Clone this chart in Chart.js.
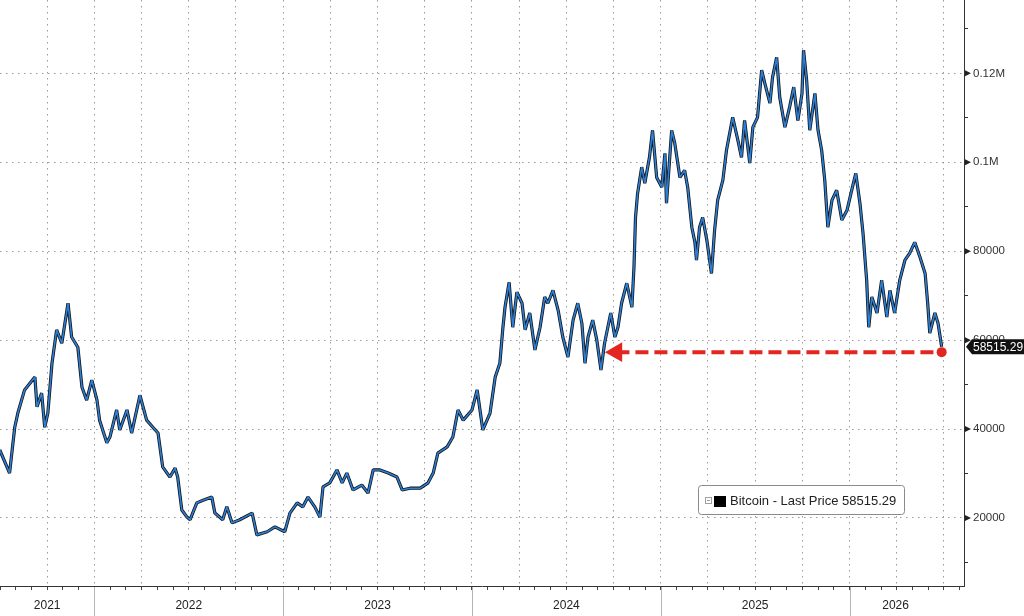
<!DOCTYPE html>
<html>
<head>
<meta charset="utf-8">
<title>Bitcoin - Last Price</title>
<script src="https://cdn.jsdelivr.net/npm/chart.js@4.4.1/dist/chart.umd.min.js"></script>
<style>
  html, body { margin: 0; padding: 0; background: #fff; }
  #wrap { width: 1024px; height: 616px; }
</style>
</head>
<body>
<div id="wrap"><canvas id="btcChart" width="1024" height="616"></canvas></div>
<script>
// weekly-ish readings of the Bitcoin price (USD)
var dates = [
  '2021-07-02','2021-07-21','2021-07-31','2021-08-06','2021-08-19','2021-09-08','2021-09-12','2021-09-21','2021-09-27','2021-10-03',
  '2021-10-11','2021-10-20','2021-10-30','2021-11-11','2021-11-18','2021-11-30','2021-12-08','2021-12-17','2021-12-27','2022-01-06',
  '2022-01-11','2022-01-25','2022-01-31','2022-02-13','2022-02-19','2022-03-05','2022-03-14','2022-03-30','2022-04-12','2022-04-24',
  '2022-05-04','2022-05-13','2022-05-27','2022-06-06','2022-06-11','2022-06-19','2022-06-29','2022-07-05','2022-07-10','2022-07-18',
  '2022-07-30','2022-08-16','2022-08-22','2022-09-06','2022-09-14','2022-09-24','2022-10-09','2022-11-02','2022-11-11','2022-12-01',
  '2022-12-16','2023-01-04','2023-01-14','2023-01-28','2023-02-08','2023-02-18','2023-03-03','2023-03-13','2023-03-19','2023-04-01',
  '2023-04-15','2023-04-25','2023-05-04','2023-05-16','2023-06-02','2023-06-14','2023-06-24','2023-07-07','2023-07-23','2023-08-09',
  '2023-08-19','2023-09-03','2023-09-23','2023-10-08','2023-10-18','2023-10-27','2023-11-14','2023-11-25','2023-12-05','2023-12-15',
  '2024-01-01','2024-01-11','2024-01-22','2024-02-05','2024-02-15','2024-02-24','2024-03-01','2024-03-05','2024-03-13','2024-03-20',
  '2024-03-28','2024-04-07','2024-04-13','2024-04-22','2024-05-02','2024-05-12','2024-05-21','2024-05-27','2024-06-06','2024-06-16',
  '2024-06-25','2024-07-05','2024-07-15','2024-07-24','2024-08-01','2024-08-07','2024-08-13','2024-08-22','2024-08-30','2024-09-07',
  '2024-09-14','2024-09-26','2024-10-04','2024-10-10','2024-10-17','2024-10-27','2024-11-06','2024-11-10','2024-11-13','2024-11-17',
  '2024-11-25','2024-12-01','2024-12-10','2024-12-16','2024-12-24','2025-01-03','2025-01-09','2025-01-12','2025-01-22','2025-01-28',
  '2025-02-07','2025-02-16','2025-02-22','2025-03-02','2025-03-08','2025-03-11','2025-03-17','2025-03-23','2025-03-31','2025-04-09',
  '2025-04-15','2025-04-21','2025-05-01','2025-05-08','2025-05-20','2025-05-30','2025-06-06','2025-06-12','2025-06-22','2025-06-28',
  '2025-07-07','2025-07-15','2025-07-21','2025-07-31','2025-08-05','2025-08-13','2025-08-19','2025-08-29','2025-09-07','2025-09-15',
  '2025-09-23','2025-10-01','2025-10-04','2025-10-10','2025-10-16','2025-10-26','2025-11-01','2025-11-08','2025-11-14','2025-11-20',
  '2025-11-28','2025-12-07','2025-12-17','2025-12-27','2026-01-05','2026-01-13','2026-01-21','2026-01-27','2026-02-03','2026-02-07',
  '2026-02-13','2026-02-23','2026-03-04','2026-03-14','2026-03-20','2026-03-29','2026-04-08','2026-04-18','2026-04-27','2026-05-07',
  '2026-05-17','2026-05-27','2026-06-01','2026-06-05','2026-06-15','2026-06-21','2026-06-28'
];
var prices = [
  35300, 30100, 40400, 43600, 48800, 51700, 45000, 48100, 40400, 43600,
  54800, 62300, 59300, 68300, 60700, 58400, 49400, 46500, 51000, 46500,
  42000, 36900, 38200, 44300, 39800, 44300, 39100, 47600, 42000, 40400,
  39100, 31500, 29200, 31200, 29200, 21800, 20200, 19600, 21100, 23400,
  24000, 24700, 21100, 19600, 22500, 18900, 19600, 21100, 16200, 16900,
  18000, 16900, 21100, 23400, 22500, 24700, 22500, 20200, 27000, 27900,
  30800, 27900, 30100, 26300, 27400, 25600, 30800, 30800, 30100, 29200,
  26300, 26700, 26700, 27900, 30100, 34600, 36000, 38200, 44300, 42000,
  44300, 48800, 39800, 43600, 51700, 54800, 62900, 67400, 73000, 62900,
  70800, 68300, 62300, 66100, 57800, 62900, 69700, 68300, 71200, 66700,
  60700, 56200, 64500, 68300, 63800, 54800, 60700, 64500, 60000, 53300,
  59300, 66100, 60700, 62900, 68300, 72800, 67400, 76400, 87600, 93000,
  98900, 95300, 101100, 107200, 96600, 94400, 102000, 90800, 107200, 104300,
  96600, 98200, 94400, 85400, 82000, 78000, 85400, 87600, 82500, 75000,
  84700, 91500, 96000, 102700, 110100, 105000, 101100, 109400, 99800, 107900,
  110100, 120700, 117800, 113300, 119100, 123600, 114600, 107900, 112400, 116900,
  109400, 115500, 125200, 118400, 107200, 115500, 107200, 102700, 96000, 85400,
  91500, 93700, 87000, 89200, 93700, 97500, 90800, 84000, 73500, 62900,
  69700, 66100, 73500, 65200, 71200, 66100, 73500, 78000, 79500, 82000,
  78700, 75000, 68300, 61600, 66100, 63800, 58515.29
];
var lastPrice = 58515.29;

var yearLabels = ['2021', '2022', '2023', '2024', '2025', '2026'];
var yTickValues = [20000, 40000, 60000, 80000, 100000, 120000];
var yTickLabels = ['20000', '40000', '60000', '80000', '0.1M', '0.12M'];

// red arrow: from the last print back to the September 2024 level
var arrowStart = '2026-06-28';
var arrowEnd = '2024-10-07';
var arrowLevel = 57300;

function toYear(s) {
  var p = s.split('-');
  var y = +p[0];
  var t0 = Date.UTC(y, 0, 1), t1 = Date.UTC(y + 1, 0, 1);
  return y + (Date.UTC(y, +p[1] - 1, +p[2]) - t0) / (t1 - t0);
}

var xMin = 2021.5, xMax = 2026.606;
var series = dates.map(function(d, i) { return { x: toYear(d), y: prices[i] }; });
var arrowPoints = [
  { x: toYear(arrowEnd), y: arrowLevel },
  { x: toYear(arrowStart), y: arrowLevel }
];
var lastT = toYear(dates[dates.length - 1]);
var yearLabelPos = yearLabels.map(function(l, i) {
  var y = +l;
  if (i === 0) return (xMin + y + 1) / 2;
  if (i === yearLabels.length - 1) return (y + lastT) / 2;
  return y + 0.5;
});

var FONT = '"Liberation Sans", Arial, sans-serif';

var decorPlugin = {
  id: 'decor',
  afterDraw: function(chart) {
    var ctx = chart.ctx, xs = chart.scales.x, ys = chart.scales.y, area = chart.chartArea;
    ctx.save();

    // year separators + labels under the time axis
    ctx.strokeStyle = '#b4b4b4';
    ctx.lineWidth = 1;
    yearLabels.forEach(function(l, i) {
      if (i === 0) return;
      var px = Math.round(xs.getPixelForValue(+l)) + 0.5;
      ctx.beginPath();
      ctx.moveTo(px, area.bottom + 1);
      ctx.lineTo(px, chart.height);
      ctx.stroke();
    });
    ctx.fillStyle = '#222';
    ctx.font = '12px ' + FONT;
    ctx.textAlign = 'center';
    ctx.textBaseline = 'middle';
    yearLabels.forEach(function(l, i) {
      ctx.fillText(l, xs.getPixelForValue(yearLabelPos[i]), 606);
    });

    // little pointers at the labelled price ticks
    ctx.fillStyle = '#222';
    yTickValues.forEach(function(v) {
      var py = ys.getPixelForValue(v);
      ctx.beginPath();
      ctx.moveTo(area.right + 1, py - 3);
      ctx.lineTo(area.right + 7, py);
      ctx.lineTo(area.right + 1, py + 3);
      ctx.closePath();
      ctx.fill();
    });

    // last price tag on the axis
    var ty = ys.getPixelForValue(lastPrice);
    ctx.fillStyle = '#111';
    ctx.beginPath();
    ctx.moveTo(area.right + 2, ty);
    ctx.lineTo(area.right + 8, ty - 7.5);
    ctx.lineTo(chart.width, ty - 7.5);
    ctx.lineTo(chart.width, ty + 7.5);
    ctx.lineTo(area.right + 8, ty + 7.5);
    ctx.closePath();
    ctx.fill();
    ctx.fillStyle = '#fff';
    ctx.font = '12px ' + FONT;
    ctx.textAlign = 'left';
    ctx.fillText(lastPrice.toFixed(2), area.right + 9, ty + 0.5);

    // legend box
    ctx.fillStyle = '#fff';
    ctx.strokeStyle = '#8a8a8a';
    ctx.beginPath();
    ctx.roundRect(698.5, 485.5, 206, 29, 3);
    ctx.fill();
    ctx.stroke();
    ctx.strokeStyle = '#a0a0a0';
    ctx.strokeRect(705.5, 497.5, 6, 6);
    ctx.fillStyle = '#a0a0a0';
    ctx.fillRect(707, 500, 3, 1);
    ctx.fillStyle = '#000';
    ctx.fillRect(714, 496, 12, 11);
    ctx.fillStyle = '#222';
    ctx.font = '13px ' + FONT;
    ctx.fillText('Bitcoin - Last Price ' + lastPrice.toFixed(2), 730, 501);

    ctx.restore();
  }
};

var canvas = document.getElementById('btcChart');
var chart = new Chart(canvas.getContext('2d'), {
  type: 'line',
  data: {
    datasets: [
      {
        label: 'Arrow',
        data: arrowPoints,
        borderColor: '#e3261f',
        backgroundColor: '#e3261f',
        borderWidth: 4,
        borderDash: [13, 6],
        pointStyle: ['triangle', 'circle'],
        pointRotation: [-90, 0],
        pointRadius: [11.5, 5],
        pointBorderWidth: 0,
        pointBackgroundColor: '#e3261f',
        order: 0
      },
      {
        label: 'Bitcoin',
        data: series,
        borderColor: '#2c7fd6',
        borderWidth: 1.6,
        borderJoinStyle: 'bevel',
        pointRadius: 0,
        tension: 0,
        order: 1
      },
      {
        label: 'Bitcoin bars',
        data: series,
        borderColor: '#141414',
        borderWidth: 3.2,
        borderJoinStyle: 'bevel',
        pointRadius: 0,
        tension: 0,
        order: 2
      }
    ]
  },
  options: {
    responsive: false,
    animation: false,
    layout: { padding: 0, autoPadding: false },
    plugins: { legend: { display: false }, tooltip: { enabled: false } },
    scales: {
      x: {
        type: 'linear',
        min: xMin,
        max: xMax,
        afterBuildTicks: function(scale) {
          var t = [];
          for (var k = 0; xMin + k / 12 <= xMax; k++) t.push({ value: xMin + k / 12 });
          scale.ticks = t;
        },
        afterFit: function(scale) {
          scale.height = 30;
          scale.paddingLeft = 0;
          scale.paddingRight = 0;
        },
        ticks: { display: false },
        grid: {
          color: function(c) { return (c.index > 0 && c.index % 3 === 0) ? '#9a9a9a' : 'rgba(0,0,0,0)'; },
          lineWidth: 1,
          drawTicks: true,
          tickLength: 4,
          tickColor: '#444'
        },
        border: { display: true, color: '#333', width: 1, dash: [1.5, 4.5] }
      },
      y: {
        type: 'linear',
        position: 'right',
        min: 4700,
        max: 136500,
        afterBuildTicks: function(scale) {
          var t = [];
          for (var v = 10000; v <= 130000; v += 10000) t.push({ value: v });
          scale.ticks = t;
        },
        afterFit: function(scale) {
          scale.width = 60;
          scale.paddingTop = 0;
          scale.paddingBottom = 0;
        },
        ticks: {
          autoSkip: false,
          padding: 5,
          color: '#333',
          font: { family: FONT, size: 11.5 },
          callback: function(value) {
            var i = yTickValues.indexOf(value);
            return i >= 0 ? yTickLabels[i] : '';
          }
        },
        grid: {
          color: function(c) { return (c.tick && c.tick.value % 20000 === 0) ? '#9a9a9a' : 'rgba(0,0,0,0)'; },
          tickColor: function(c) { return (c.tick && c.tick.value % 20000 === 0) ? 'rgba(0,0,0,0)' : '#333'; },
          tickLength: 4,
          lineWidth: 1
        },
        border: { display: true, color: '#333', width: 1, dash: [1.5, 4.5] }
      }
    }
  },
  plugins: [decorPlugin]
});
</script>
</body>
</html>
